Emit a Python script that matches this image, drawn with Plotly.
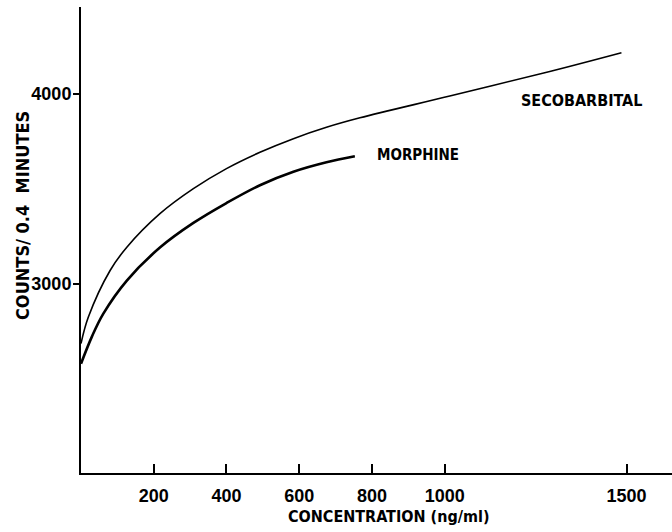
import plotly.graph_objects as go

# Data
seco_x = [0, 20, 80, 126, 217, 309, 400, 492, 584, 675, 767, 1014, 1289, 1486]
seco_y = [2683, 2822, 3069, 3192, 3369, 3501, 3607, 3693, 3765, 3825, 3875, 3990, 4120, 4219]
morph_x = [0, 30, 61, 126, 217, 309, 400, 492, 584, 675, 753]
morph_y = [2577, 2720, 2840, 3016, 3190, 3320, 3425, 3519, 3590, 3640, 3672]
x_ticks = [200, 400, 600, 800, 1000, 1500]
y_ticks = [3000, 4000]

NARROW = "Liberation Sans Narrow, DejaVu Sans Condensed, Arial Narrow, sans-serif"
BOLD = "Liberation Sans, Arial, sans-serif"

fig = go.Figure()
fig.add_trace(go.Scatter(x=seco_x, y=seco_y, mode="lines",
                         line=dict(color="black", width=1.6, shape="spline", smoothing=1.0),
                         showlegend=False, hoverinfo="skip"))
fig.add_trace(go.Scatter(x=morph_x, y=morph_y, mode="lines",
                         line=dict(color="black", width=2.6, shape="spline", smoothing=1.0),
                         showlegend=False, hoverinfo="skip"))

fig.update_layout(
    width=672, height=532,
    margin=dict(l=81, r=0, t=7, b=59),
    paper_bgcolor="white", plot_bgcolor="white",
    xaxis=dict(range=[0, 1625], tickvals=x_ticks, ticktext=[str(v) for v in x_ticks],
               showgrid=False, zeroline=False, showline=True, linecolor="black", linewidth=2,
               ticks="inside", ticklen=9, tickwidth=2, tickcolor="black",
               tickfont=dict(family=BOLD, size=18, color="black", weight="bold"),
               ticklabelstandoff=5),
    yaxis=dict(range=[2000, 4460], tickvals=y_ticks, ticktext=[str(v) for v in y_ticks],
               showgrid=False, zeroline=False, showline=True, linecolor="black", linewidth=2,
               ticks="outside", ticklen=6, tickwidth=2, tickcolor="black",
               tickfont=dict(family=BOLD, size=18, color="black", weight="bold"),
               ticklabelstandoff=-2),
    annotations=[
        dict(text="SECOBARBITAL", x=1377, y=3968, xref="x", yref="y", showarrow=False,
             font=dict(family=NARROW, size=16, color="black", weight="bold")),
        dict(text="MORPHINE", x=926, y=3677, xref="x", yref="y", showarrow=False,
             font=dict(family=NARROW, size=15, color="black", weight="bold")),
        dict(text="CONCENTRATION (ng/ml)", x=0.521, y=-0.0944, xref="paper", yref="paper",
             showarrow=False, xanchor="center", yanchor="middle",
             font=dict(family=NARROW, size=16, color="black", weight="bold")),
        dict(text="COUNTS/ 0.4  MINUTES", x=-0.0998, y=0.5515, xref="paper", yref="paper",
             showarrow=False, textangle=-90, xanchor="center", yanchor="middle",
             font=dict(family=NARROW, size=18, color="black", weight="bold")),
    ],
)

fig.write_html("out.html")
